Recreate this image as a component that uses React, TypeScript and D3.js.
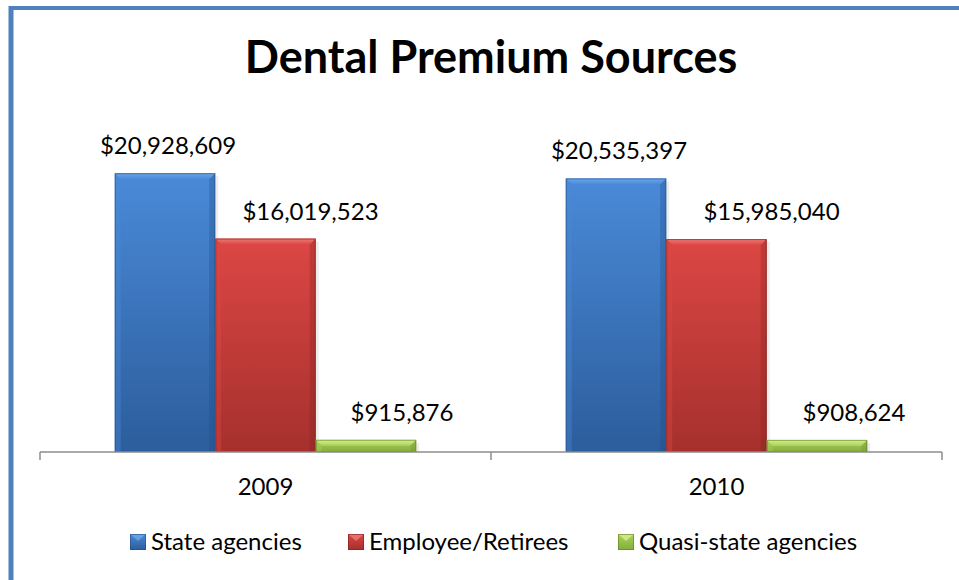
import React from "react";
import * as d3 from "d3";

const years = ["2009", "2010"];
const seriesNames = ["State agencies", "Employee/Retirees", "Quasi-state agencies"];
const stateAgencies = [20928609, 20535397];
const employeeRetirees = [16019523, 15985040];
const quasiState = [915876, 908624];
const yMax = 25000000;

// labels were nudged by hand in the original, per year then per series
const labelShift = [
  [3, 45, 36],
  [3, 55, 37],
];

const palettes = [
  { top: "#4a8ad8", bottom: "#2c5d9c", light: "#6fa6ea", dark: "#1f4a80", edge: "#254f86" },
  { top: "#dc4744", bottom: "#a5302d", light: "#ee7a76", dark: "#85201e", edge: "#7a1f1d" },
  { top: "#a9d15a", bottom: "#86ad3c", light: "#d3f08f", dark: "#6a8a2a", edge: "#5f7d23" },
];

const W = 959;
const H = 580;
const font = "Lato, 'Open Sans', sans-serif";

const App = () => {
  const plot = { left: 40, right: 942, top: 119, base: 452 };
  const series = [stateAgencies, employeeRetirees, quasiState];

  const x0 = d3.scaleBand().domain(years).range([plot.left, plot.right]).paddingInner(0).paddingOuter(0);
  const x1 = d3
    .scaleBand()
    .domain(seriesNames)
    .range([0, x0.bandwidth()])
    .paddingOuter(0.744)
    .paddingInner(0);
  const y = d3.scaleLinear().domain([0, yMax]).range([plot.base, plot.top]);
  const fmt = (v: number) => "$" + d3.format(",")(v);

  const bars: any[] = [];
  years.forEach((yr, i) => {
    seriesNames.forEach((s, j) => {
      const v = series[j][i];
      bars.push({ yr, s, i, j, v, x: (x0(yr) as number) + (x1(s) as number), w: x1.bandwidth(), top: y(v) });
    });
  });

  const legendX = [130, 348, 618];

  return (
    <svg
      width={W}
      height={H}
      style={{ position: "absolute", left: 0, top: 0, background: "#fff" }}
      fontFamily={font}
    >
      <defs>
        {palettes.map((p, j) => (
          <linearGradient key={j} id={"g" + j} x1="0" y1="0" x2="0" y2="1">
            <stop offset="0%" stopColor={p.top} />
            <stop offset="100%" stopColor={p.bottom} />
          </linearGradient>
        ))}
        {palettes.map((p, j) => (
          <linearGradient key={"l" + j} id={"lg" + j} x1="0" y1="0" x2="0" y2="1">
            <stop offset="0%" stopColor={p.light} />
            <stop offset="100%" stopColor={p.top} />
          </linearGradient>
        ))}
      </defs>

      {/* frame */}
      <line x1={11} y1={8} x2={W} y2={8} stroke="#4f81bd" strokeWidth={4} />
      <line x1={11} y1={6} x2={11} y2={H} stroke="#4f81bd" strokeWidth={5} />

      <text x={491} y={73} textAnchor="middle" fontSize={45} fontWeight={700} fill="#000">
        Dental Premium Sources
      </text>

      {/* bars */}
      {bars.map((b, k) => {
        const p = palettes[b.j];
        const xa = b.x;
        const xb = b.x + b.w;
        const ya = b.top;
        const yb = plot.base;
        const bv = Math.min(6, (yb - ya) / 2);
        return (
          <g key={k}>
            <rect x={xb} y={ya + 3} width={3} height={yb - ya - 3} fill="#000" opacity={0.07} />
            <rect x={xa} y={ya} width={b.w} height={yb - ya} fill={`url(#g${b.j})`} />
            <polygon
              points={`${xa},${ya} ${xb},${ya} ${xb - bv},${ya + bv} ${xa + bv},${ya + bv}`}
              fill={`url(#lg${b.j})`}
            />
            <polygon
              points={`${xa},${ya} ${xa + bv},${ya + bv} ${xa + bv},${yb} ${xa},${yb}`}
              fill={p.top}
              opacity={0.4}
            />
            <polygon
              points={`${xb},${ya} ${xb - bv},${ya + bv} ${xb - bv},${yb} ${xb},${yb}`}
              fill={p.dark}
              opacity={0.3}
            />
            <rect x={xa + 0.5} y={ya + 0.5} width={b.w - 1} height={yb - ya - 1} fill="none" stroke={p.edge} strokeWidth={1} opacity={0.6} />
            <text x={xa + b.w / 2 + labelShift[b.i][b.j]} y={ya - 19} textAnchor="middle" fontSize={24} fill="#000">
              {fmt(b.v)}
            </text>
          </g>
        );
      })}

      {/* axis */}
      <g stroke="#8c8c8c" strokeWidth={1.5} fill="none">
        <line x1={plot.left} y1={plot.base} x2={plot.right} y2={plot.base} />
        {[plot.left, (x0("2010") as number), plot.right].map((t, i) => (
          <line key={i} x1={t} y1={plot.base} x2={t} y2={plot.base + 8} />
        ))}
      </g>
      {years.map((yr) => (
        <text key={yr} x={(x0(yr) as number) + x0.bandwidth() / 2} y={495} textAnchor="middle" fontSize={24} fill="#000">
          {yr}
        </text>
      ))}

      {/* legend */}
      {seriesNames.map((s, j) => (
        <g key={s} transform={`translate(${legendX[j]},534)`}>
          <rect x={0} y={0} width={16} height={16} fill={`url(#g${j})`} />
          <polygon points="0,0 16,0 8,7" fill={palettes[j].light} opacity={0.8} />
          <rect x={0.5} y={0.5} width={15} height={15} fill="none" stroke={palettes[j].edge} strokeWidth={1} opacity={0.6} />
          <text x={21} y={16} fontSize={24} fill="#000">
            {s}
          </text>
        </g>
      ))}
    </svg>
  );
};

export default App;
